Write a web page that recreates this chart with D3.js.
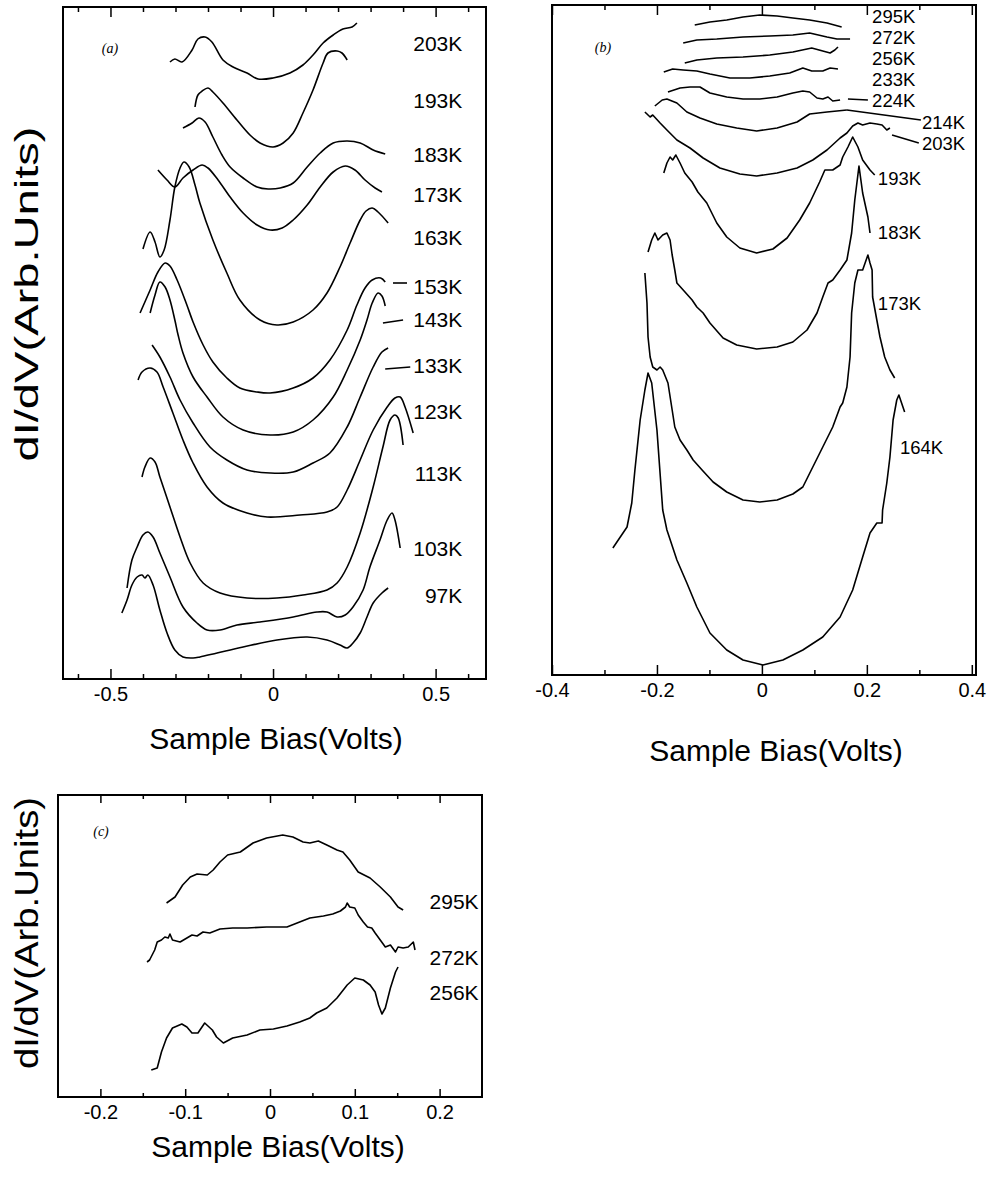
<!DOCTYPE html>
<html>
<head>
<meta charset="utf-8">
<script src="https://cdn.jsdelivr.net/npm/d3@7"></script>
<style>
  body { margin: 0; background: #fff; }
  text { font-family: Arial, "Liberation Sans", sans-serif; fill: #000; }
</style>
</head>
<body>
<script>
// ---------- panel (a) : dI/dV vs bias, 97K .. 203K (arb. units, offset curves) ----------
const a203 = [[-0.317,61.7],[-0.302,62.0],[-0.28,61.7],[-0.249,62.9],[-0.231,64.0],[-0.209,64.2],[-0.188,63.7],[-0.154,61.9],[-0.123,61.2],[-0.08,60.6],[-0.046,60.0],[0,60.1],[0.052,60.6],[0.092,61.4],[0.123,62.4],[0.154,63.6],[0.185,64.4],[0.215,65.0],[0.243,65.2],[0.258,65.6]];
const a193 = [[-0.24,57.2],[-0.231,58.4],[-0.218,58.8],[-0.2,59.1],[-0.185,58.7],[-0.154,57.6],[-0.111,55.9],[-0.071,54.4],[-0.04,53.6],[0,53.2],[0.031,53.6],[0.062,54.6],[0.092,56.6],[0.123,58.9],[0.154,61.6],[0.169,62.6],[0.197,62.8],[0.212,62.6],[0.228,61.9]];
const a183 = [[-0.277,55.1],[-0.249,55.6],[-0.228,56.1],[-0.209,55.7],[-0.185,54.2],[-0.157,52.4],[-0.132,51.2],[-0.092,50.1],[-0.049,49.2],[-0.015,49.0],[0.022,49.1],[0.062,49.6],[0.105,51.2],[0.145,52.6],[0.185,53.6],[0.228,53.8],[0.268,53.6],[0.308,52.9],[0.345,52.5]];
const a173 = [[-0.354,50.9],[-0.326,49.9],[-0.302,49.2],[-0.277,50.1],[-0.246,50.9],[-0.218,51.4],[-0.2,51.1],[-0.169,49.9],[-0.132,48.2],[-0.092,46.6],[-0.049,45.4],[-0.009,44.9],[0.028,45.1],[0.062,45.9],[0.105,47.4],[0.145,49.2],[0.185,50.7],[0.222,51.3],[0.252,50.9],[0.283,49.9],[0.314,49.1],[0.335,48.7]];
const a163 = [[-0.4,43.0],[-0.378,44.7],[-0.363,43.7],[-0.348,42.2],[-0.335,42.9],[-0.317,45.9],[-0.302,49.2],[-0.286,51.1],[-0.274,51.7],[-0.258,51.2],[-0.24,49.4],[-0.225,47.6],[-0.185,43.9],[-0.142,40.6],[-0.102,37.9],[-0.04,35.9],[0.012,35.4],[0.062,35.7],[0.123,36.9],[0.166,38.6],[0.206,41.2],[0.237,43.6],[0.268,45.9],[0.286,46.8],[0.305,47.1],[0.323,46.7],[0.354,45.6]];
const a153 = [[-0.409,36.6],[-0.378,38.9],[-0.354,40.7],[-0.332,41.6],[-0.317,41.3],[-0.295,39.9],[-0.265,37.4],[-0.246,35.7],[-0.215,33.4],[-0.185,31.7],[-0.142,30.1],[-0.102,29.1],[-0.049,28.7],[-0.009,28.6],[0.062,29.1],[0.123,30.1],[0.175,31.9],[0.228,34.9],[0.258,37.4],[0.283,39.1],[0.305,39.9],[0.331,40.1],[0.345,39.7]];
const a143 = [[-0.378,36.6],[-0.363,38.4],[-0.348,39.7],[-0.332,39.2],[-0.317,37.9],[-0.302,35.9],[-0.292,34.4],[-0.277,32.6],[-0.246,30.2],[-0.203,28.2],[-0.154,26.2],[-0.092,24.9],[-0.009,24.4],[0.062,24.7],[0.123,25.9],[0.185,28.2],[0.228,30.9],[0.268,33.9],[0.289,35.9],[0.305,37.6],[0.323,38.6],[0.335,38.3],[0.345,37.3]];
const a133 = [[-0.372,33.4],[-0.348,32.2],[-0.317,30.2],[-0.286,27.9],[-0.246,25.6],[-0.194,23.2],[-0.142,21.9],[-0.08,20.9],[-0.009,20.6],[0.062,20.7],[0.123,21.6],[0.175,22.6],[0.228,25.2],[0.268,28.2],[0.308,31.2],[0.335,32.7],[0.354,33.1]];
const a123 = [[-0.415,29.9],[-0.403,30.7],[-0.378,31.1],[-0.357,30.7],[-0.338,29.2],[-0.308,26.6],[-0.277,23.9],[-0.246,21.6],[-0.203,19.2],[-0.154,17.6],[-0.08,16.6],[-0.018,16.2],[0.083,16.4],[0.166,16.7],[0.197,17.2],[0.228,18.9],[0.268,21.9],[0.308,24.9],[0.351,27.2],[0.375,28.1],[0.391,28.2],[0.406,27.2],[0.431,24.6]];
const a113 = [[-0.403,20.2],[-0.394,21.2],[-0.378,22.1],[-0.363,21.7],[-0.348,20.2],[-0.317,17.2],[-0.286,14.2],[-0.255,11.6],[-0.215,9.6],[-0.163,8.6],[-0.08,8.1],[0.012,8.1],[0.092,8.4],[0.166,8.9],[0.197,9.6],[0.228,11.2],[0.268,14.6],[0.308,19.2],[0.338,23.2],[0.36,25.9],[0.375,26.4],[0.385,26.1],[0.4,23.4]];
const a103 = [[-0.449,9.1],[-0.434,11.9],[-0.418,13.2],[-0.4,14.4],[-0.385,14.7],[-0.369,14.2],[-0.348,12.6],[-0.317,10.2],[-0.277,7.2],[-0.234,5.6],[-0.203,4.9],[-0.163,4.9],[-0.111,5.4],[-0.04,5.7],[0.062,6.2],[0.135,6.7],[0.166,6.7],[0.197,6.2],[0.222,6.4],[0.246,7.2],[0.277,8.9],[0.298,11.2],[0.329,13.9],[0.351,15.9],[0.366,16.6],[0.375,15.9],[0.391,13.1]];
const a97 = [[-0.465,6.6],[-0.449,7.9],[-0.434,9.4],[-0.418,10.2],[-0.403,10.4],[-0.394,10.1],[-0.385,10.4],[-0.369,9.4],[-0.348,6.9],[-0.326,4.6],[-0.302,2.9],[-0.277,2.2],[-0.246,2.1],[-0.225,2.2],[-0.172,2.6],[-0.092,3.2],[0.012,3.9],[0.105,4.2],[0.166,3.9],[0.206,3.4],[0.228,3.1],[0.246,3.6],[0.268,4.6],[0.289,6.2],[0.308,7.6],[0.335,8.6],[0.354,9.1]];

const aLabels = ["203K","193K","183K","173K","163K","153K","143K","133K","123K","113K","103K","97K"];
const aLabelY = [63.6,57.9,52.5,48.5,44.2,39.3,36.0,31.4,26.8,20.6,13.1,8.4];
const aLinks = [[[0.369,39.6],[0.412,39.6]],[[0.338,35.6],[0.4,35.9]],[[0.345,31.0],[0.422,31.2]]];
const aTicks = [-0.6,-0.5,-0.4,-0.3,-0.2,-0.1,0,0.1,0.2,0.3,0.4,0.5,0.6];
const aMajor = [-0.5,0,0.5];

// ---------- panel (b) : 164K .. 295K ----------
const b295 = [[-0.128,65.0],[-0.099,65.3],[-0.067,65.5],[-0.036,65.8],[-0.004,66.0],[0.029,65.9],[0.059,65.7],[0.091,65.5],[0.124,65.2],[0.152,64.8]];
const b272 = [[-0.15,63.2],[-0.124,63.5],[-0.086,63.6],[-0.036,63.8],[0.015,63.9],[0.059,64.0],[0.091,64.2],[0.124,63.8],[0.143,63.6],[0.168,63.6]];
const b256 = [[-0.147,61.2],[-0.124,61.5],[-0.086,61.7],[-0.036,61.8],[0.015,62.0],[0.059,62.3],[0.095,62.7],[0.116,62.4],[0.13,62.2],[0.139,62.5],[0.145,62.8]];
const b233 = [[-0.187,60.3],[-0.17,60.6],[-0.15,60.5],[-0.124,60.4],[-0.099,60.1],[-0.061,59.7],[-0.023,59.7],[0.015,59.9],[0.053,60.2],[0.078,60.7],[0.095,60.4],[0.116,60.4],[0.13,60.7],[0.145,60.6]];
const b224 = [[-0.179,58.3],[-0.156,58.7],[-0.137,58.8],[-0.118,58.8],[-0.099,58.2],[-0.067,57.8],[-0.036,57.6],[-0.004,57.6],[0.029,57.8],[0.059,58.2],[0.078,58.4],[0.091,58.3],[0.105,57.7],[0.116,57.6],[0.126,57.8],[0.135,57.4],[0.149,57.5]];
const b214 = [[-0.204,56.9],[-0.19,57.5],[-0.181,57.6],[-0.162,57.2],[-0.143,56.3],[-0.118,55.7],[-0.086,55.1],[-0.048,54.7],[-0.01,54.4],[0.029,54.7],[0.067,55.3],[0.091,56.1],[0.124,56.3],[0.162,56.5]];
const b203 = [[-0.223,56.3],[-0.213,55.8],[-0.208,56.0],[-0.194,55.2],[-0.181,54.5],[-0.162,53.5],[-0.137,52.7],[-0.112,51.7],[-0.08,50.7],[-0.042,50.1],[-0.01,49.9],[0.029,50.2],[0.067,50.7],[0.097,51.5],[0.124,52.5],[0.149,53.7],[0.162,54.2],[0.173,54.9],[0.183,55.2],[0.192,55.0],[0.206,55.2],[0.219,55.1],[0.229,55.0],[0.238,54.5],[0.244,54.7]];
const b193 = [[-0.187,50.2],[-0.181,51.2],[-0.175,51.8],[-0.17,51.5],[-0.164,52.0],[-0.156,51.2],[-0.147,50.2],[-0.133,49.3],[-0.122,48.3],[-0.105,47.2],[-0.086,45.2],[-0.067,43.8],[-0.042,42.7],[-0.01,42.2],[0.021,42.6],[0.048,43.7],[0.072,45.5],[0.091,47.2],[0.11,49.3],[0.12,50.5],[0.135,50.5],[0.149,51.0],[0.154,51.8],[0.164,52.8],[0.173,53.8],[0.183,52.8],[0.192,51.5],[0.206,50.5],[0.215,50.0]];
const b183 = [[-0.217,42.3],[-0.21,43.5],[-0.204,44.2],[-0.198,43.5],[-0.189,44.0],[-0.181,44.2],[-0.175,43.5],[-0.171,42.0],[-0.166,40.5],[-0.162,39.2],[-0.15,38.5],[-0.133,37.5],[-0.124,36.8],[-0.112,36.2],[-0.099,35.2],[-0.074,33.7],[-0.048,33.0],[-0.01,32.6],[0.029,32.8],[0.059,33.3],[0.086,34.5],[0.105,36.2],[0.116,37.8],[0.126,39.2],[0.135,39.5],[0.149,40.5],[0.162,41.5],[0.171,44.2],[0.177,47.5],[0.185,50.9],[0.192,48.2],[0.202,45.8],[0.206,44.2]];
const b173 = [[-0.223,40.2],[-0.219,37.2],[-0.217,33.8],[-0.213,31.8],[-0.208,30.8],[-0.2,30.5],[-0.194,30.8],[-0.189,30.5],[-0.179,29.2],[-0.171,26.5],[-0.166,24.8],[-0.156,23.5],[-0.143,22.5],[-0.131,21.5],[-0.114,20.5],[-0.093,19.3],[-0.067,18.3],[-0.036,17.5],[-0.004,17.3],[0.029,17.5],[0.059,18.1],[0.078,18.8],[0.097,20.8],[0.116,22.8],[0.135,24.8],[0.149,26.8],[0.154,27.2],[0.162,28.8],[0.168,31.8],[0.171,36.2],[0.177,39.2],[0.183,40.5],[0.192,40.5],[0.2,41.7],[0.202,42.0],[0.206,41.2],[0.21,40.5],[0.211,37.8],[0.219,35.5],[0.225,33.8],[0.234,31.8],[0.244,30.5],[0.253,29.7]];
const b164 = [[-0.284,12.7],[-0.257,14.8],[-0.248,17.2],[-0.242,20.5],[-0.232,25.5],[-0.223,28.5],[-0.217,30.2],[-0.21,29.2],[-0.2,24.5],[-0.189,16.5],[-0.181,14.5],[-0.162,11.5],[-0.143,9.2],[-0.124,6.8],[-0.099,4.2],[-0.067,2.5],[-0.036,1.5],[0.002,1.0],[0.04,1.5],[0.078,2.5],[0.116,3.8],[0.149,5.8],[0.173,8.5],[0.192,11.8],[0.206,14.2],[0.219,15.2],[0.229,15.2],[0.23,16.5],[0.238,19.2],[0.244,21.8],[0.25,25.5],[0.257,27.5],[0.261,28.0],[0.272,26.3]];

const bLabels = ["295K","272K","256K","233K","224K","214K","203K","193K","183K","173K","164K"];
const bLabelX = [0.21,0.21,0.21,0.21,0.21,0.305,0.305,0.221,0.221,0.221,0.263];
const bLabelY = [65.9,63.8,61.7,59.6,57.5,55.3,53.2,49.7,44.3,37.2,22.8];
const bLinks = [[[0.164,57.6],[0.202,57.5]],[[0.162,56.5],[0.303,55.5]],[[0.248,54.0],[0.299,53.2]]];
const bTicks = [-0.4,-0.3,-0.2,-0.1,0,0.1,0.2,0.3,0.4];
const bMajor = [-0.4,-0.2,0,0.2,0.4];

// ---------- panel (c) : 256K .. 295K, narrow bias range ----------
const c295 = [[-0.122,19.4],[-0.112,20.0],[-0.103,21.2],[-0.094,22.0],[-0.086,22.3],[-0.074,22.2],[-0.067,22.7],[-0.059,23.5],[-0.05,24.2],[-0.035,24.5],[-0.02,25.4],[-0.004,25.9],[0.015,26.2],[0.027,26.0],[0.039,25.5],[0.047,25.4],[0.057,25.6],[0.067,25.2],[0.079,24.7],[0.086,24.5],[0.094,23.7],[0.104,22.5],[0.118,21.9],[0.13,21.0],[0.142,20.0],[0.151,19.0],[0.157,18.7]];
const c272 = [[-0.145,13.5],[-0.142,13.7],[-0.136,14.7],[-0.133,15.5],[-0.128,15.7],[-0.124,16.0],[-0.12,15.9],[-0.118,16.3],[-0.115,15.7],[-0.106,15.5],[-0.098,15.9],[-0.092,16.2],[-0.086,16.1],[-0.079,16.5],[-0.071,16.4],[-0.059,16.8],[-0.044,16.9],[-0.027,16.9],[-0.004,17.0],[0.02,17.0],[0.032,17.4],[0.047,17.9],[0.063,18.1],[0.074,18.3],[0.083,18.6],[0.089,19.0],[0.091,19.4],[0.094,19.0],[0.1,18.9],[0.104,18.2],[0.11,17.5],[0.115,17.0],[0.12,16.9],[0.124,16.4],[0.13,15.7],[0.136,15.0],[0.142,15.2],[0.148,14.5],[0.151,15.0],[0.157,14.9],[0.163,15.0],[0.169,15.5],[0.171,14.7]];
const c256 = [[-0.14,2.7],[-0.133,2.9],[-0.128,4.5],[-0.122,5.9],[-0.115,6.9],[-0.104,7.3],[-0.098,7.0],[-0.092,6.4],[-0.085,6.4],[-0.077,7.4],[-0.068,6.7],[-0.063,6.0],[-0.055,5.4],[-0.044,5.9],[-0.027,6.2],[-0.012,6.7],[0.004,6.8],[0.02,7.1],[0.035,7.5],[0.047,7.9],[0.055,8.4],[0.067,8.9],[0.079,9.9],[0.091,11.2],[0.1,11.9],[0.11,11.7],[0.118,11.2],[0.124,10.5],[0.128,9.2],[0.132,8.3],[0.136,8.9],[0.142,10.9],[0.148,12.5],[0.151,13.0]];

const cLabels = ["295K","272K","256K"];
const cLabelY = [19.6,14.0,10.5];
const cTicks = [-0.2,-0.15,-0.1,-0.05,0,0.05,0.1,0.15,0.2];
const cMajor = [-0.2,-0.1,0,0.1,0.2];


var svg = d3.select("body").append("svg")
    .attr("width", 1007)
    .attr("height", 1184);

// panel boxes (pixels) and their data ranges
var panels = [
  { name: "(a)", left: 63, right: 486, top: 7, bottom: 679,
    xDomain: [-0.646, 0.655], yDomain: [0, 67.2],
    curves: [a203,a193,a183,a173,a163,a153,a143,a133,a123,a113,a103,a97],
    smooth: true, labelSize: 21,
    labels: aLabels.map((t,i) => ({ text: t, x: 0.582, y: aLabelY[i], anchor: "end" })),
    links: aLinks,
    ticks: aTicks, major: aMajor, majorLen: 10, minorLen: 5,
    tagPos: [110, 48], titleX: 276, titleY: 749, ytitle: [26, 294, 335] },
  { name: "(b)", left: 552, right: 976, top: 5, bottom: 675,
    xDomain: [-0.4, 0.408], yDomain: [0, 67],
    curves: [b295,b272,b256,b233,b224,b214,b203,b193,b183,b173,b164],
    smooth: false, labelSize: 18.5,
    labels: bLabels.map((t,i) => ({ text: t, x: bLabelX[i], y: bLabelY[i], anchor: "start" })),
    links: bLinks,
    ticks: bTicks, major: bMajor, majorLen: 10, minorLen: 5,
    tagPos: [603, 47], titleX: 776, titleY: 761, ytitle: null },
  { name: "(c)", left: 58, right: 482, top: 795, bottom: 1097,
    xDomain: [-0.25, 0.25], yDomain: [0, 30.2],
    curves: [c295, c272, c256],
    smooth: false, labelSize: 21,
    labels: cLabels.map((t,i) => ({ text: t, x: 0.246, y: cLabelY[i], anchor: "end" })),
    links: [],
    ticks: cTicks, major: cMajor, majorLen: 8, minorLen: 4,
    tagPos: [101, 831], titleX: 278, titleY: 1157, ytitle: [26, 933, 272] }
];

function fmtTick(d) { return d === 0 ? "0" : String(d); }

panels.forEach(function(p) {
  var g = svg.append("g");
  var x = d3.scaleLinear().domain(p.xDomain).range([p.left, p.right]);
  var y = d3.scaleLinear().domain(p.yDomain).range([p.bottom, p.top]);
  var minor = p.ticks.filter(t => p.major.indexOf(t) < 0);

  // inward ticks, bottom and top
  [[d3.axisBottom, p.bottom], [d3.axisTop, p.top]].forEach(function(a) {
    var ax = a[0], yy = a[1];
    g.append("g").attr("transform", "translate(0," + yy + ")")
      .call(ax(x).tickValues(minor).tickSize(-p.minorLen).tickFormat(""))
      .call(s => s.select(".domain").remove());
    var gm = g.append("g").attr("transform", "translate(0," + yy + ")")
      .call(ax(x).tickValues(p.major).tickSize(-p.majorLen).tickPadding(8)
        .tickFormat(ax === d3.axisBottom ? fmtTick : ""))
      .call(s => s.select(".domain").remove());
    gm.attr("font-size", 20).attr("font-family", "Arial, 'Liberation Sans', sans-serif");
  });
  g.selectAll(".tick line").attr("stroke", "#000").attr("stroke-width", 1.5);

  // frame
  g.append("rect")
    .attr("x", p.left).attr("y", p.top)
    .attr("width", p.right - p.left).attr("height", p.bottom - p.top)
    .attr("fill", "none").attr("stroke", "#000").attr("stroke-width", 2);

  var line = d3.line()
    .x(d => x(d[0]))
    .y(d => y(d[1]))
    .curve(p.smooth ? d3.curveCatmullRom.alpha(0.5) : d3.curveLinear);

  g.selectAll("path.curve").data(p.curves).enter()
    .append("path").attr("class", "curve")
    .attr("d", line)
    .attr("fill", "none").attr("stroke", "#000")
    .attr("stroke-width", 1.6).attr("stroke-linejoin", "round");

  // label leader lines
  p.links.forEach(function(l) {
    g.append("line")
      .attr("x1", x(l[0][0])).attr("y1", y(l[0][1]))
      .attr("x2", x(l[1][0])).attr("y2", y(l[1][1]))
      .attr("stroke", "#000").attr("stroke-width", 1.6);
  });

  g.selectAll("text.temp").data(p.labels).enter()
    .append("text").attr("class", "temp")
    .attr("x", d => x(d.x)).attr("y", d => y(d.y))
    .attr("dy", "0.36em")
    .attr("text-anchor", d => d.anchor)
    .attr("font-size", p.labelSize)
    .text(d => d.text);

  // panel tag
  g.append("text")
    .attr("x", p.tagPos[0]).attr("y", p.tagPos[1])
    .attr("dy", "0.35em").attr("text-anchor", "middle")
    .style("font-family", "'Liberation Serif', 'Times New Roman', serif")
    .style("font-style", "italic")
    .attr("font-size", 14)
    .text(p.name);

  // x title
  g.append("text")
    .attr("x", p.titleX).attr("y", p.titleY)
    .attr("text-anchor", "middle")
    .attr("font-size", 30)
    .text("Sample Bias(Volts)");

  if (p.ytitle) {
    g.append("text")
      .attr("transform", "translate(" + p.ytitle[0] + "," + p.ytitle[1] + ") rotate(-90)")
      .attr("text-anchor", "middle")
      .attr("dy", "0.36em")
      .attr("font-size", 34)
      .attr("textLength", p.ytitle[2])
      .attr("lengthAdjust", "spacingAndGlyphs")
      .text("dI/dV(Arb.Units)");
  }
});
</script>
</body>
</html>
